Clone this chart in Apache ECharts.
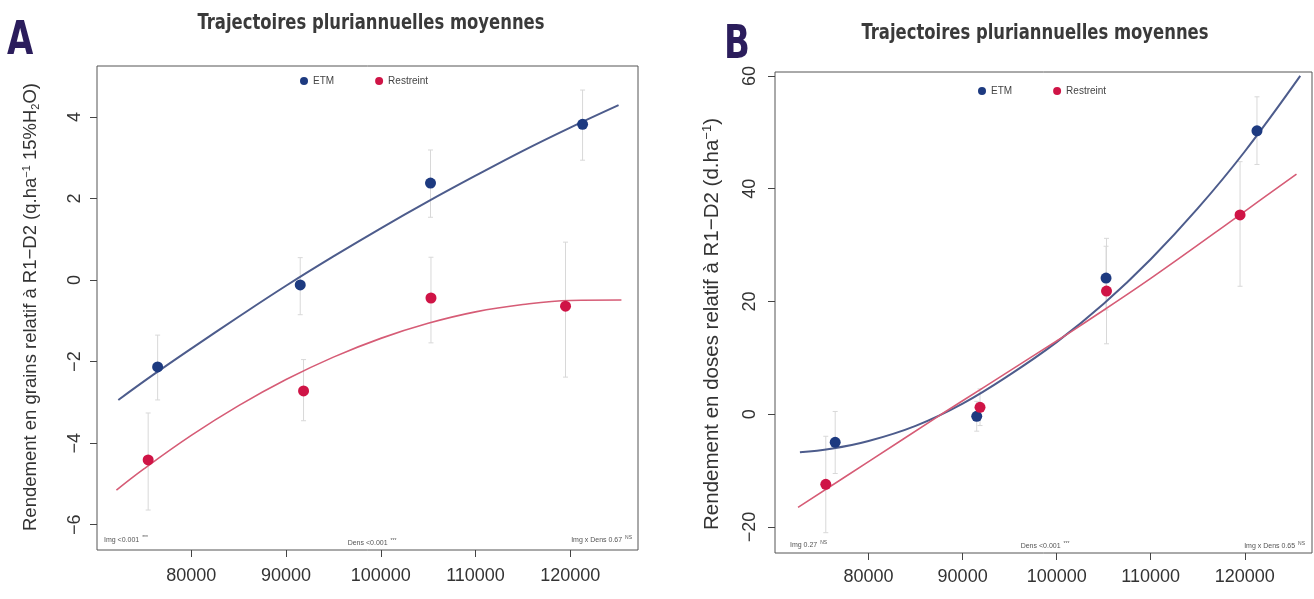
<!DOCTYPE html>
<html><head><meta charset="utf-8">
<script src="https://cdn.jsdelivr.net/npm/echarts@6/dist/echarts.min.js"></script>
<style>html,body{margin:0;padding:0;background:#fff}#c{width:1314px;height:599px}</style>
</head><body><div id="c"></div>
<script>
// ---------- data ----------
const xTicks = [80000, 90000, 100000, 110000, 120000];
const yTicksA = [-6, -4, -2, 0, 2, 4];
const yTicksB = [-20, 0, 20, 40, 60];

// plant densities (x) of the mean points
const densETM = [76450, 91500, 105250, 121300];
const densRes = [75450, 91850, 105300, 119500];

// Panel A : grain yield relative to R1-D2
const grainETM = [-2.13, -0.12, 2.38, 3.82];
const grainETMLow = [-2.94, -0.85, 1.54, 2.94];
const grainETMHigh = [-1.35, 0.55, 3.19, 4.66];
const grainRes = [-4.41, -2.72, -0.44, -0.64];
const grainResLow = [-5.64, -3.45, -1.54, -2.38];
const grainResHigh = [-3.26, -1.95, 0.56, 0.93];

// Panel A fitted trajectories
const fitAx_ETM = [72300, 76000, 80000, 85000, 90000, 95000, 100000, 105000, 110000, 115000, 120000, 125100];
const fitAy_ETM = [-2.94, -2.32, -1.68, -0.90, -0.14, 0.58, 1.27, 1.93, 2.56, 3.17, 3.74, 4.29];
const fitAx_Res = [72100, 75000, 80000, 85000, 90000, 95000, 100000, 105000, 110000, 115000, 120000, 125400];
const fitAy_Res = [-5.15, -4.63, -3.81, -3.08, -2.44, -1.89, -1.43, -1.06, -0.78, -0.60, -0.50, -0.49];

// Panel B : dose yield relative to R1-D2
const doseETM = [-4.97, -0.36, 24.16, 50.27];
const doseETMLow = [-10.5, -3.0, 18.5, 44.3];
const doseETMHigh = [0.5, 2.3, 29.8, 56.3];
const doseRes = [-12.43, 1.24, 21.85, 35.35];
const doseResLow = [-21.0, -2.0, 12.5, 22.7];
const doseResHigh = [-3.9, 4.5, 31.2, 44.8];

// Panel B fitted trajectories
const fitBx_ETM = [72700, 76000, 80000, 85000, 90000, 95000, 100000, 105000, 110000, 115000, 120000, 125900];
const fitBy_ETM = [-6.75, -6.12, -4.74, -2.05, 1.9, 7.0, 12.8, 19.6, 27.5, 36.5, 46.6, 60.0];
const fitBx_Res = [72500, 80000, 87400, 90000, 95000, 100000, 102400, 110000, 120000, 125500];
const fitBy_Res = [-16.5, -8.4, -0.36, 2.4, 7.7, 13.0, 15.6, 24.1, 36.0, 42.6];

const titleText = 'Trajectoires pluriannuelles moyennes';
const seriesNames = ['ETM', 'Restreint'];

// ---------- styles ----------
const C_ETM = '#1d3a80', C_RES = '#cf1446';
const L_ETM = '#4d5c8c', L_RES = '#d65c76';
const ERR = '#d8d8d8';
const FONT = '"Liberation Sans", Arial, Helvetica, sans-serif';
const NARROW = '"Liberation Sans Narrow", "DejaVu Sans Condensed", "DejaVu Sans", sans-serif';

const pairs = (xs, ys) => xs.map((x, i) => [x, ys[i]]);

function errSeries(xs, lo, hi, ai) {
  return {
    type: 'custom', xAxisIndex: ai, yAxisIndex: ai, silent: true, z: 1,
    encode: { x: 0, y: [1, 2] },
    data: xs.map((x, i) => [x, lo[i], hi[i]]),
    renderItem(params, api) {
      const x = api.value(0);
      const p1 = api.coord([x, api.value(1)]);
      const p2 = api.coord([x, api.value(2)]);
      const w = 2.5, st = { stroke: ERR, lineWidth: 1 };
      return { type: 'group', children: [
        { type: 'line', shape: { x1: p1[0], y1: p1[1], x2: p2[0], y2: p2[1] }, style: st },
        { type: 'line', shape: { x1: p1[0] - w, y1: p1[1], x2: p1[0] + w, y2: p1[1] }, style: st },
        { type: 'line', shape: { x1: p2[0] - w, y1: p2[1], x2: p2[0] + w, y2: p2[1] }, style: st }
      ]};
    }
  };
}
function fitSeries(xs, ys, color, width, ai) {
  return { type: 'line', name: 'fit', xAxisIndex: ai, yAxisIndex: ai, data: pairs(xs, ys),
    smooth: 0.4, showSymbol: false, silent: true, z: 2,
    lineStyle: { color, width } };
}
function ptSeries(name, xs, ys, color, ai) {
  return { type: 'scatter', name, xAxisIndex: ai, yAxisIndex: ai, data: pairs(xs, ys),
    symbol: 'circle', symbolSize: 11, itemStyle: { color, opacity: 1 }, z: 3 };
}
function xAxisCfg(gi, margin) {
  return { type: 'value', gridIndex: gi, min: 70050, max: 127150,
    axisLine: { show: false, onZero: false }, splitLine: { show: false },
    axisTick: { show: true, customValues: xTicks, length: 7, lineStyle: { color: '#444', width: 1 } },
    axisLabel: { customValues: xTicks, margin, fontSize: 18, color: '#333', fontFamily: FONT,
      formatter: v => String(v) } };
}
function yAxisCfg(gi, min, max, ticks, margin) {
  return { type: 'value', gridIndex: gi, min, max,
    axisLine: { show: false, onZero: false }, splitLine: { show: false },
    axisTick: { show: true, customValues: ticks, length: 7, lineStyle: { color: '#444', width: 1 } },
    axisLabel: { customValues: ticks, rotate: 90, margin, fontSize: 18, color: '#333', fontFamily: FONT,
      formatter: v => String(v).replace('-', '\u2212') } };
}
function legendCfg(left, top) {
  return { data: seriesNames, left, top, padding: 0, itemGap: 41, itemWidth: 8, itemHeight: 8,
    icon: 'circle', selectedMode: false,
    textStyle: { fontSize: 10, color: '#444', fontFamily: FONT } };
}
function annot(x, y, main, sup, align) {
  return { type: 'text', x, y, z: 10, style: {
    text: '{m|' + main + '}{s|' + sup + '}', align, verticalAlign: 'middle',
    rich: { m: { fontSize: 7, fill: '#555', fontFamily: FONT },
            s: { fontSize: 5, fill: '#555', fontFamily: FONT, verticalAlign: 'top', padding: [0, 0, 4, 1] } } } };
}
function richName(fs) {
  return {
    a: { fontSize: fs, fill: '#333', fontFamily: FONT },
    s: { fontSize: Math.round(fs * 0.62), fill: '#333', fontFamily: FONT, verticalAlign: 'top', padding: [0, 0, Math.round(fs * 0.5), 0] },
    b: { fontSize: Math.round(fs * 0.62), fill: '#333', fontFamily: FONT, verticalAlign: 'bottom', padding: [Math.round(fs * 0.4), 0, 0, 0] }
  };
}

const option = {
  animation: false,
  backgroundColor: '#fff',
  grid: [
    { left: 97, top: 66, width: 541, height: 484, show: true, borderColor: '#555', borderWidth: 1, backgroundColor: 'transparent' },
    { left: 775, top: 72, width: 537, height: 481, show: true, borderColor: '#555', borderWidth: 1, backgroundColor: 'transparent' }
  ],
  xAxis: [xAxisCfg(0, 17), xAxisCfg(1, 15)],
  yAxis: [yAxisCfg(0, -6.62, 5.25, yTicksA, 13), yAxisCfg(1, -24.6, 60.7, yTicksB, 16)],
  legend: [legendCfg(300, 76), legendCfg(978, 86)],
  series: [
    errSeries(densETM, grainETMLow, grainETMHigh, 0),
    errSeries(densRes, grainResLow, grainResHigh, 0),
    fitSeries(fitAx_ETM, fitAy_ETM, L_ETM, 2, 0),
    fitSeries(fitAx_Res, fitAy_Res, L_RES, 1.6, 0),
    ptSeries('ETM', densETM, grainETM, C_ETM, 0),
    ptSeries('Restreint', densRes, grainRes, C_RES, 0),
    errSeries(densETM, doseETMLow, doseETMHigh, 1),
    errSeries(densRes, doseResLow, doseResHigh, 1),
    fitSeries(fitBx_ETM, fitBy_ETM, L_ETM, 2, 1),
    fitSeries(fitBx_Res, fitBy_Res, L_RES, 1.6, 1),
    ptSeries('ETM', densETM, doseETM, C_ETM, 1),
    ptSeries('Restreint', densRes, doseRes, C_RES, 1)
  ],
  graphic: [
    { type: 'text', x: 7, y: 42, scaleX: 0.82, style: { text: 'A', fontSize: 46, fontWeight: 'bold', fill: '#2b1d5c', fontFamily: NARROW, verticalAlign: 'middle' } },
    { type: 'text', x: 724, y: 46, scaleX: 0.82, style: { text: 'B', fontSize: 46, fontWeight: 'bold', fill: '#2b1d5c', fontFamily: NARROW, verticalAlign: 'middle' } },
    { type: 'text', x: 371, y: 23, scaleX: 0.83, style: { text: titleText, fontSize: 22, fontWeight: 'bold', fill: '#3a3a3a', fontFamily: NARROW, align: 'center', verticalAlign: 'middle' } },
    { type: 'text', x: 1035, y: 33, scaleX: 0.83, style: { text: titleText, fontSize: 22, fontWeight: 'bold', fill: '#3a3a3a', fontFamily: NARROW, align: 'center', verticalAlign: 'middle' } },
    { type: 'text', x: 31, y: 307, rotation: Math.PI / 2, style: {
      text: '{a|Rendement en grains relatif à R1\u2212D2 (q.ha}{s|\u22121}{a| 15%H}{b|2}{a|O)}',
      align: 'center', verticalAlign: 'middle', rich: richName(18.5) } },
    { type: 'text', x: 712, y: 324, rotation: Math.PI / 2, style: {
      text: '{a|Rendement en doses relatif à R1\u2212D2 (d.ha}{s|\u22121}{a|)}',
      align: 'center', verticalAlign: 'middle', rich: richName(20.5) } },
    annot(104, 540, 'Img <0.001 ', '***', 'left'),
    annot(372, 543, 'Dens <0.001 ', '***', 'center'),
    annot(632, 540, 'Img x Dens 0.67 ', 'NS', 'right'),
    annot(790, 545, 'Img 0.27 ', 'NS', 'left'),
    annot(1045, 546, 'Dens <0.001 ', '***', 'center'),
    annot(1305, 546, 'Img x Dens 0.65 ', 'NS', 'right')
  ]
};
const chart = echarts.init(document.getElementById('c'), null, { renderer: 'canvas' });
chart.setOption(option);
</script>
</body></html>
